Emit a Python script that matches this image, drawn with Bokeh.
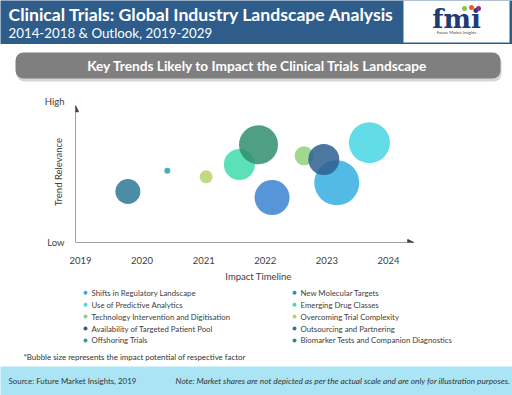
from bokeh.plotting import figure
from bokeh.models import Range1d, FixedTicker, Arrow, NormalHead, ColumnDataSource
from bokeh.layouts import column
from bokeh.embed import file_html
from bokeh.resources import INLINE
from bokeh.core.properties import value

# ---------------- data ----------------
factors = [
    "Outsourcing and Partnering",
    "Offshoring Trials",
    "Overcoming Trial Complexity",
    "Emerging Drug Classes",
    "Biomarker Tests and Companion Diagnostics",
    "New Molecular Targets",
    "Technology Intervention and Digitisation",
    "Shifts in Regulatory Landscape",
    "Availability of Targeted Patient Pool",
    "Use of Predictive Analytics",
]
impact_year = [2019.77, 2020.41, 2021.04, 2021.58, 2021.89, 2022.11, 2022.63, 2023.16, 2022.95, 2023.69]
relevance = [3.62, 5.09, 4.66, 5.53, 6.93, 3.19, 6.15, 4.24, 5.89, 7.08]
impact_potential = [25, 6, 13, 31, 39, 35, 19, 45, 31, 41]  # bubble diameter
colors = ["#2E7797", "#2A9DAE", "#B6D46B", "#40DBAA", "#2F8E6E",
          "#3B83D1", "#8FD17B", "#35ADE0", "#2D5F8F", "#47D6E2"]

legend_order = [
    "Shifts in Regulatory Landscape", "New Molecular Targets",
    "Use of Predictive Analytics", "Emerging Drug Classes",
    "Technology Intervention and Digitisation", "Overcoming Trial Complexity",
    "Availability of Targeted Patient Pool", "Outsourcing and Partnering",
    "Offshoring Trials", "Biomarker Tests and Companion Diagnostics",
]
year_ticks = [2019, 2020, 2021, 2022, 2023, 2024]
relevance_labels = {0: "Low", 10: "High"}

title = "Clinical Trials: Global Industry Landscape Analysis"
subtitle = "2014-2018 & Outlook, 2019-2029"
banner_text = "Key Trends Likely to Impact the Clinical Trials Landscape"
footnote = "*Bubble size represents the impact potential of respective factor"
source_text = "Source: Future Market Insights, 2019"
note_text = "Note: Market shares are not depicted as per the actual scale and are only for illustration purposes."

FONT = value("Lato")
W = 512


def deco(height, y_top, bg="white"):
    f = figure(width=W, height=height, x_range=Range1d(0, W), y_range=Range1d(y_top + height, y_top),
               output_backend="svg", toolbar_location=None, x_axis_location=None, y_axis_location=None,
               min_border=0, background_fill_color=bg, border_fill_color=bg, frame_align=False)
    f.grid.visible = False
    f.outline_line_color = None
    return f


# ---------------- header ----------------
BLUE = "#2E5D8C"
h = deco(44, 0, bg=BLUE)
h.quad(left=[403], right=[509], top=[0], bottom=[42], fill_color="white", line_color=None)
h.text(x=[8], y=[14], text=[title], text_font=FONT, text_font_style="bold", text_font_size="17.6px",
       text_baseline="middle", text_color="white")
h.text(x=[8], y=[32.5], text=[subtitle], text_font=FONT, text_font_size="13.3px",
       text_baseline="middle", text_color="white")
h.text(x=[456], y=[18], text=["fmi"], text_font=value("DejaVu Serif"), text_font_style="bold",
       text_font_size="26px", text_baseline="middle", text_align="center", text_color="#1F3B73")
h.scatter(x=[464, 471, 478], y=[8, 7, 8], size=5, fill_color=["#8CC63F", "#F05A28", "#92278F"], line_color=None)
h.text(x=[456], y=[32], text=["Future Market Insights"], text_font=FONT, text_font_size="4px",
       text_baseline="middle", text_align="center", text_color="#444444")

# ---------------- banner ----------------
b = deco(42, 44)
b.quad(left=[16], right=[501], top=[54], bottom=[81], fill_color="#BBBBBB", fill_alpha=0.6,
       line_color=None, border_radius=8)
b.quad(left=[15], right=[500], top=[52], bottom=[78], fill_color="#7F7F7F", line_color=None,
       border_radius=8)
b.text(x=[257], y=[65], text=[banner_text], text_font=FONT, text_font_style="bold", text_font_size="13.7px",
       text_baseline="middle", text_align="center", text_color="white")

# ---------------- main bubble chart ----------------
x_lo, x_hi = 2018.92, 2024.86
p = figure(width=W, height=198, x_range=Range1d(x_lo, x_hi), y_range=Range1d(0, 10),
           output_backend="svg", toolbar_location=None, frame_align=False,
           min_border_left=75, min_border_right=71, min_border_top=15, min_border_bottom=37)
p.grid.visible = False
p.outline_line_color = None

src = ColumnDataSource(dict(x=impact_year, y=relevance, s=impact_potential, c=colors, f=factors))
p.scatter("x", "y", size="s", fill_color="c", fill_alpha=0.85, line_color=None, source=src)

AX = "#404040"
p.xaxis.ticker = FixedTicker(ticks=year_ticks)
p.xaxis.axis_label = "Impact Timeline"
p.yaxis.ticker = FixedTicker(ticks=list(relevance_labels.keys()))
p.yaxis.major_label_overrides = relevance_labels
p.yaxis.axis_label = "Trend Relevance"
for ax in (p.xaxis, p.yaxis):
    ax.axis_line_color = None
    ax.major_tick_line_color = None
    ax.minor_tick_line_color = None
    ax.major_label_text_font = "Lato"
    ax.major_label_text_font_size = "9.5px"
    ax.major_label_text_color = AX
    ax.axis_label_text_font = "Lato"
    ax.axis_label_text_font_size = "9.5px"
    ax.axis_label_text_font_style = "normal"
    ax.axis_label_text_color = AX
p.xaxis.major_label_standoff = 8
p.xaxis.axis_label_standoff = 4
p.yaxis.major_label_standoff = 5
p.yaxis.axis_label_standoff = -22

p.add_layout(Arrow(end=NormalHead(size=6, fill_color=AX, line_color=AX), x_start=x_lo, y_start=0,
                   x_end=2024.41, y_end=0, line_color=AX, line_width=1))
p.add_layout(Arrow(end=NormalHead(size=6, fill_color=AX, line_color=AX), x_start=x_lo, y_start=0,
                   x_end=x_lo, y_end=9.7, line_color=AX, line_width=1))

# ---------------- legend + footnote ----------------
lg = deco(82, 284)
color_of = dict(zip(factors, colors))
lx = [85 + 209 * (i % 2) for i in range(len(legend_order))]
ly = [292.3 + 11.9 * (i // 2) for i in range(len(legend_order))]
lsrc = ColumnDataSource(dict(x=lx, y=ly, tx=[v + 6 for v in lx], t=legend_order,
                             c=[color_of[k] for k in legend_order]))
lg.scatter("x", "y", size=4, fill_color="c", line_color=None, source=lsrc)
lg.text("tx", "y", text="t", text_font=FONT, text_font_size="7.8px", text_baseline="middle",
        text_color="#404040", source=lsrc)
lg.text(x=[23], y=[356], text=[footnote], text_font=FONT, text_font_size="7.9px", text_baseline="middle",
        text_color="#333333")

# ---------------- footer ----------------
ft = deco(29, 366, bg="#ABE5F5")
ft.text(x=[8], y=[380], text=[source_text], text_font=FONT, text_font_size="7.9px", text_baseline="middle",
        text_color="#333333")
ft.text(x=[510], y=[380], text=[note_text], text_font=FONT, text_font_size="8.3px", text_font_style="italic",
        text_baseline="middle", text_align="right", text_color="#333333")

layout = column(h, b, p, lg, ft, spacing=0)
open("out.html", "w").write(file_html(layout, INLINE))
